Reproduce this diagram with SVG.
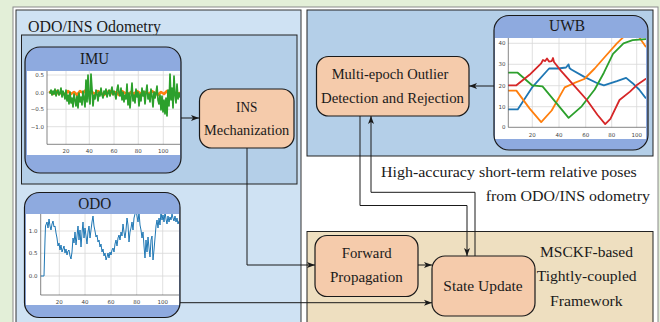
<svg xmlns="http://www.w3.org/2000/svg" width="660" height="322" viewBox="0 0 660 322">
<style>
.t{font-family:"Liberation Serif","DejaVu Serif","Times New Roman",serif;fill:#1a1a1a}
.title{font-size:16px}
.lbl{font-size:15px}
.tick{font-family:"DejaVu Sans",sans-serif;font-size:5.5px;fill:#444}
.grid{stroke:#d8d8d8;stroke-width:0.8;fill:none}
.spine{stroke:#333;stroke-width:0.6;fill:none}
.node{stroke:#1a1a1a;stroke-width:1.2}
.hdr{fill:#8eaadf}
.proc{fill:#f5cbab}
.conn{fill:none;stroke:#1a1a1a;stroke-width:1}
.data{fill:none;stroke-linejoin:round;stroke-linecap:round}
</style>
<defs>
<marker id="arr" markerUnits="userSpaceOnUse" markerWidth="9" markerHeight="7" refX="8" refY="3.5" orient="auto">
<path d="M0,0.5 L8,3.5 L0,6.5 L2,3.5 z" fill="#1a1a1a"/>
</marker>
<clipPath id="cImu"><rect x="47" y="71" width="133" height="73.3"/></clipPath>
<clipPath id="cOdo"><rect x="40.7" y="214" width="138.3" height="81"/></clipPath>
<clipPath id="cUwb"><rect x="508.3" y="38" width="137.7" height="89.3"/></clipPath>
</defs>
<rect x="0" y="0" width="660" height="322" fill="#e3efd8"/>
<rect x="13" y="7" width="645" height="320" fill="#ffffff" stroke="#8a8a8a" stroke-width="1"/>

<g id="odo-ins-odometry">
<rect x="16" y="10" width="285" height="320" fill="#cfe2f3" stroke="#333" stroke-width="1"/>
<text class="t title" x="28" y="32" textLength="133" lengthAdjust="spacingAndGlyphs">ODO/INS Odometry</text>
<rect x="21.5" y="35" width="275.5" height="149" fill="#b4cfe8" stroke="#222" stroke-width="1"/>
</g>
<g id="uwb-region">
<rect x="307" y="10" width="346" height="146" fill="#b4cfe8" stroke="#222" stroke-width="1"/>
</g>
<g id="msckf-region">
<rect x="307" y="231.5" width="346" height="100" fill="#eedfc0" stroke="#222" stroke-width="1"/>
<text class="t lbl" x="540" y="257" textLength="93" lengthAdjust="spacingAndGlyphs">MSCKF-based</text>
<text class="t lbl" x="536.7" y="281" textLength="100" lengthAdjust="spacingAndGlyphs">Tightly-coupled</text>
<text class="t lbl" x="550" y="306" textLength="72.7" lengthAdjust="spacingAndGlyphs">Framework</text>
</g>

<g id="imu">
<rect class="hdr" x="25" y="47" width="156" height="126" rx="15"/>
<rect x="27" y="71" width="153" height="84" fill="#fff"/>
<path class="grid" d="M47,75H180M47,92.7H180M47,109.3H180M47,126.7H180M66,71V144.3M89.3,71V144.3M114,71V144.3M138.3,71V144.3M163.3,71V144.3"/>
<g clip-path="url(#cImu)">
<polyline class="data" stroke="#ff7f0e" stroke-width="2.6" points="50,92 53,94 56,91 59,94 62,92 65,95 68,91 71,94 74,92 77,95 80,91 83,93 86,90 89,95 92,92 95,94 98,91 101,93 104,95 107,92 110,91 113,94 116,92 119,95 122,91 125,93 128,95 131,92 134,94 137,91 140,93 143,95 146,92 149,94 152,91 155,93 158,95 161,92 164,94 167,91 170,94 173,92 176,95 180,93"/>
<polyline class="data" stroke="#2ca02c" stroke-width="1.7" points="50,93 51,90 52,95 53,91 54,94 55,89 56,96 57,92 58,90 59,95 60,93 61,88 62,97 63,91 64,94 65,99 66,90 67,101 68,95 69,104 70,92 71,103 72,98 73,107 74,94 75,100 76,106 77,96 78,108 79,93 80,102 81,97 82,105 83,91 84,99 85,107 86,80 87,102 88,75 89,98 90,104 91,74 92,89 93,106 94,95 95,99 96,90 97,94 98,101 99,92 100,96 101,88 102,95 103,98 104,91 105,94 106,89 107,97 108,93 109,90 110,96 111,92 112,87 113,95 114,91 115,94 116,99 117,90 118,85 119,93 120,96 121,88 122,100 123,92 124,102 125,95 126,99 127,84 128,105 129,93 130,108 131,96 132,83 133,101 134,95 135,103 136,89 137,97 138,92 139,106 140,94 141,101 142,88 143,96 144,91 145,104 146,93 147,85 148,99 149,94 150,102 151,89 152,96 153,107 154,92 155,98 156,93 157,86 158,100 159,104 160,95 161,110 162,96 163,112 164,100 165,114 166,98 167,116 168,90 169,106 170,74 171,100 172,88 173,108 174,76 175,95 176,103 177,84 178,99 179,93 180,97"/>
</g>
<path class="spine" d="M47,71V144.3H180"/>
<g class="tick" text-anchor="end">
<text x="44" y="77">0.5</text><text x="44" y="94.7">0.0</text><text x="44" y="111.3">−0.5</text><text x="44" y="128.7">−1.0</text>
</g>
<g class="tick" text-anchor="middle">
<text x="66" y="153">20</text><text x="89.3" y="153">40</text><text x="114" y="153">60</text><text x="138.3" y="153">80</text><text x="163.3" y="153">100</text>
</g>
<rect x="25" y="47" width="156" height="126" rx="15" fill="none" class="node"/>
<text class="t title" x="80" y="63.5" textLength="29" lengthAdjust="spacingAndGlyphs">IMU</text>
</g>

<g id="odo">
<rect class="hdr" x="24.5" y="192.5" width="155.5" height="125" rx="15"/>
<rect x="26" y="214" width="153" height="91" fill="#fff"/>
<path class="grid" d="M40.7,231H179M40.7,253.3H179M40.7,276H179M59.3,214V295M85,214V295M111,214V295M136.7,214V295M162.7,214V295"/>
<g clip-path="url(#cOdo)">
<polyline class="data" stroke="#1f77b4" stroke-width="1" points="41,276 44,276 45,240 45.5,226 47,222 48,228 49,219 50,226 51,230 52,224 53,221 54,227 55,226 56,233 57,238 58,246 59,243 60,250 61,245 62,252 63,249 64,246 65,253 66,249 67,255 68,251 69,250 70,256 71,259 72,252 73,238 74,243 75,232 76,245 77,236 78,226 79,240 80,230 81,247 82,233 83,222 84,238 85,228 86,236 87,244 88,232 89,226 90,238 91,230 92,222 93,216 94,226 95,231 96,237 97,235 98,242 99,240 100,247 101,244 102,252 103,249 104,256 105,253 106,260 107,257 108,253 109,258 110,252 111,255 112,250 113,248 114,252 115,244 116,240 117,246 118,238 119,235 120,240 121,232 122,236 123,224 124,232 125,238 126,230 127,218 128,225 129,242 130,232 131,228 132,222 133,230 134,218 135,214 136,209 137,216 138,222 139,212 140,225 141,230 142,238 143,232 144,246 145,258 146,240 147,252 148,237 149,248 150,257 151,240 152,236 153,260 154,250 155,238 156,226 157,220 158,228 159,218 160,225 161,212 162,220 163,215 164,222 165,212 166,219 167,224 168,216 169,222 170,217 171,220 172,214 173,218 174,221 175,216 176,222 177,218 178,224 179,221"/>
</g>
<path class="spine" d="M40.7,214V295H179"/>
<g class="tick" text-anchor="end">
<text x="37.5" y="233">1.0</text><text x="37.5" y="255.3">0.5</text><text x="37.5" y="278">0.0</text>
</g>
<g class="tick" text-anchor="middle">
<text x="59.3" y="303.5">20</text><text x="85" y="303.5">40</text><text x="111" y="303.5">60</text><text x="136.7" y="303.5">80</text><text x="162.7" y="303.5">100</text>
</g>
<rect x="24.5" y="192.5" width="155.5" height="125" rx="15" fill="none" class="node"/>
<text class="t title" x="78.3" y="208.5" textLength="33" lengthAdjust="spacingAndGlyphs">ODO</text>
</g>

<g id="uwb">
<rect class="hdr" x="494" y="15.5" width="154" height="134.5" rx="15"/>
<rect x="495" y="38" width="151" height="101" fill="#fff"/>
<path class="grid" d="M508.3,43.3H646M508.3,64.3H646M508.3,85.7H646M508.3,106.7H646M532.3,38V127.3M559,38V127.3M585.7,38V127.3M611.7,38V127.3M636.7,38V127.3"/>
<g clip-path="url(#cUwb)" stroke-width="1.8">
<polyline class="data" stroke="#1f77b4" points="508.6,109.4 517.7,109.4 532.1,87.4 549.1,68.5 558.2,68.5 566,67.5 568.6,64.4 569.5,68 571.3,69.5 584.3,76.9 597.4,83.2 603.9,85.3 616.9,81.1 626.1,77.9 632.6,83.2 639.1,89.5 645.6,97.9"/>
<polyline class="data" stroke="#ff7f0e" points="508.6,90.6 516.4,90.6 529.5,108.4 541.2,122.1 551.7,110.5 564.7,87.4 573.9,83.2 584.3,79 594.7,68.5 603.9,58 616.9,43.3 623.5,37 630,30 636,32 640.4,39.1 645.6,46.5"/>
<polyline class="data" stroke="#2ca02c" points="508.6,72.7 517.7,72.7 532.1,85.3 542.5,86.4 555.6,102.1 568.6,117.9 581.7,106.3 594.7,89.5 603.9,72.7 613,53.8 623.5,43.3 632.6,40.2 645.6,39.1"/>
<polyline class="data" stroke="#d62728" points="508.6,85.3 516.4,85.3 529.5,74.8 541.2,63.3 543,60 545.2,61.1 547,58.5 549,61.5 551.7,61.1 553,58 554,62 560.8,70.6 573.9,85.3 586.9,100 597.4,114.7 605.2,124.1 610.4,118.9 619.5,100 630,91.6 636.5,85.3 645.6,79"/>
</g>
<path class="spine" d="M508.3,38V127.3H646"/>
<g class="tick" text-anchor="end">
<text x="505.5" y="45.3">40</text><text x="505.5" y="66.3">30</text><text x="505.5" y="87.7">20</text><text x="505.5" y="108.7">10</text><text x="505.5" y="129.3">0</text>
</g>
<g class="tick" text-anchor="middle">
<text x="532.3" y="136.5">20</text><text x="559" y="136.5">40</text><text x="585.7" y="136.5">60</text><text x="611.7" y="136.5">80</text><text x="636.7" y="136.5">100</text>
</g>
<rect x="494" y="15.5" width="154" height="134.5" rx="15" fill="none" class="node"/>
<text class="t title" x="549" y="31" textLength="36" lengthAdjust="spacingAndGlyphs">UWB</text>
</g>

<g id="ins-mechanization">
<rect class="proc node" x="199.5" y="89" width="94.5" height="59" rx="12"/>
<text class="t lbl" x="236" y="112" textLength="21.3" lengthAdjust="spacingAndGlyphs">INS</text>
<text class="t lbl" x="204" y="135" textLength="85.3" lengthAdjust="spacingAndGlyphs">Mechanization</text>
</g>
<g id="outlier-rejection">
<rect class="proc node" x="316.5" y="56.5" width="152.5" height="59.5" rx="12"/>
<text class="t lbl" x="331.7" y="79" textLength="116.6" lengthAdjust="spacingAndGlyphs">Multi-epoch Outlier</text>
<text class="t lbl" x="321" y="102.5" textLength="143" lengthAdjust="spacingAndGlyphs">Detection and Rejection</text>
</g>
<g id="forward-propagation">
<rect class="proc node" x="315" y="235.5" width="103" height="61" rx="12"/>
<text class="t lbl" x="341.7" y="258" textLength="50" lengthAdjust="spacingAndGlyphs">Forward</text>
<text class="t lbl" x="330" y="281.5" textLength="72.7" lengthAdjust="spacingAndGlyphs">Propagation</text>
</g>
<g id="state-update">
<rect class="proc node" x="432" y="256" width="103" height="60" rx="13"/>
<text class="t lbl" x="443.3" y="290.5" textLength="79.4" lengthAdjust="spacingAndGlyphs">State Update</text>
</g>

<g id="annotation">
<text class="t lbl" x="381" y="177" textLength="255.7" lengthAdjust="spacingAndGlyphs">High-accuracy short-term relative poses</text>
<text class="t lbl" x="485.7" y="201" textLength="164.3" lengthAdjust="spacingAndGlyphs">from ODO/INS odometry</text>
</g>

<g id="connectors">
<path class="conn" d="M181,118H199" marker-end="url(#arr)"/>
<path class="conn" d="M247,148V265H315" marker-end="url(#arr)"/>
<path class="conn" d="M180,302.7H432" marker-end="url(#arr)"/>
<path class="conn" d="M418,265H432" marker-end="url(#arr)"/>
<path class="conn" d="M494,86H469" marker-end="url(#arr)"/>
<path class="conn" d="M360,116V205.5H467V256" marker-end="url(#arr)"/>
<path class="conn" d="M475,256V192.3H371V116" marker-end="url(#arr)"/>
</g>
</svg>
